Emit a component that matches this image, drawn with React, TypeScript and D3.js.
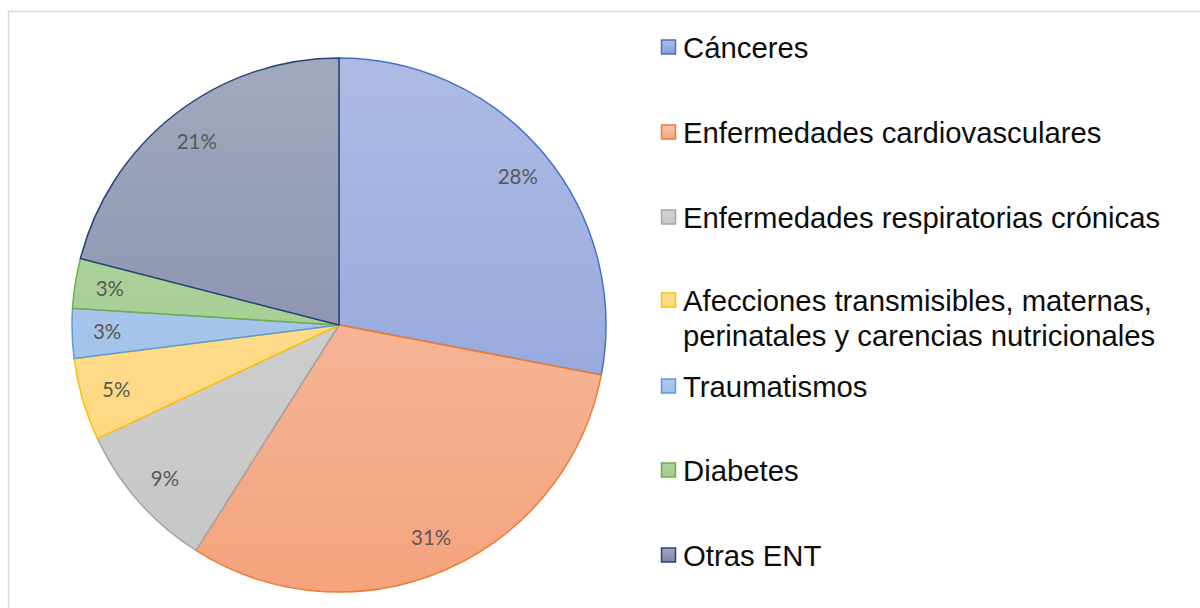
import { useEffect, useRef } from 'react';
import * as d3 from 'd3';

const categories = [
  'Cánceres',
  'Enfermedades cardiovasculares',
  'Enfermedades respiratorias crónicas',
  'Afecciones transmisibles, maternas, perinatales y carencias nutricionales',
  'Traumatismos',
  'Diabetes',
  'Otras ENT',
];
const values = [28, 31, 9, 5, 3, 3, 21];
const legendLines = [
  ['Cánceres'],
  ['Enfermedades cardiovasculares'],
  ['Enfermedades respiratorias crónicas'],
  ['Afecciones transmisibles, maternas,', 'perinatales y carencias nutricionales'],
  ['Traumatismos'],
  ['Diabetes'],
  ['Otras ENT'],
];
const strokeColors = ['#4472C4', '#ED7D31', '#A5A5A5', '#FFC000', '#5B9BD5', '#70AD47', '#264478'];
const topColors = ['#adbbe4', '#f7c6ae', '#d4d4d4', '#ffdf95', '#adc9eb', '#b0d5a0', '#a2a9bf'];
const bottomColors = ['#8a9ed8', '#f4a37d', '#c6c6c6', '#ffd67d', '#9fc0e8', '#9fcb8b', '#7a83a5'];

export default function App() {
  const ref = useRef<SVGSVGElement>(null);

  useEffect(() => {
    if (!ref.current) return;
    const svg = d3.select(ref.current);
    svg.selectAll('*').remove();

    const cx = 339;
    const cy = 325;
    const radius = 267;

    // chart area border
    svg.append('rect')
      .attr('x', 8.5)
      .attr('y', 11.5)
      .attr('width', 1250)
      .attr('height', 700)
      .attr('fill', '#fff')
      .attr('stroke', '#d9d9d9')
      .attr('stroke-width', 1.5);

    const defs = svg.append('defs');
    categories.forEach((_, i) => {
      const g = defs.append('linearGradient')
        .attr('id', `grad-${i}`)
        .attr('gradientUnits', 'userSpaceOnUse')
        .attr('x1', 0).attr('x2', 0)
        .attr('y1', -radius).attr('y2', radius);
      g.append('stop').attr('offset', '0%').attr('stop-color', topColors[i]);
      g.append('stop').attr('offset', '100%').attr('stop-color', bottomColors[i]);
      const lg = defs.append('linearGradient')
        .attr('id', `lg-${i}`)
        .attr('x1', 0).attr('x2', 0).attr('y1', 0).attr('y2', 1);
      lg.append('stop').attr('offset', '0%').attr('stop-color', topColors[i]);
      lg.append('stop').attr('offset', '100%').attr('stop-color', bottomColors[i]);
    });

    const pie = d3.pie<number>().sort(null).value(d => d);
    const arcs = pie(values);
    const arc = d3.arc<d3.PieArcDatum<number>>().innerRadius(0).outerRadius(radius);
    const labelArc = d3.arc<d3.PieArcDatum<number>>().innerRadius(232).outerRadius(232);

    const g = svg.append('g').attr('transform', `translate(${cx},${cy})`);

    g.selectAll('path.slice')
      .data(arcs)
      .enter()
      .append('path')
      .attr('class', 'slice')
      .attr('d', arc)
      .attr('fill', (_, i) => `url(#grad-${i})`)
      .attr('stroke', (_, i) => strokeColors[i])
      .attr('stroke-width', 1.5)
      .attr('stroke-linejoin', 'round');

    g.selectAll('text.label')
      .data(arcs)
      .enter()
      .append('text')
      .attr('class', 'label')
      .attr('transform', d => `translate(${labelArc.centroid(d)})`)
      .attr('text-anchor', 'middle')
      .attr('dy', '0.35em')
      .attr('fill', '#595959')
      .attr('font-family', 'Lato, "Open Sans", sans-serif')
      .attr('font-size', 20.5)
      .text(d => `${d.data}%`);

    // legend
    const legendY = [47, 132, 217, 300, 386, 470, 555];
    const legend = svg.append('g');
    legendLines.forEach((lines, i) => {
      const y = legendY[i];
      legend.append('rect')
        .attr('x', 661.5)
        .attr('y', y - 7)
        .attr('width', 14)
        .attr('height', 14)
        .attr('fill', `url(#lg-${i})`)
        .attr('stroke', strokeColors[i])
        .attr('stroke-width', 1.5);
      lines.forEach((line, j) => {
        legend.append('text')
          .attr('x', 683)
          .attr('y', y + j * 35)
          .attr('dy', '0.36em')
          .attr('fill', '#0d0d0d')
          .attr('font-family', '"Liberation Sans", Arial, sans-serif')
          .attr('font-size', 29.3)
          .text(line);
      });
    });
  }, []);

  return (
    <svg
      ref={ref}
      width={1200}
      height={608}
      style={{ position: 'absolute', left: 0, top: 0, display: 'block' }}
    />
  );
}
